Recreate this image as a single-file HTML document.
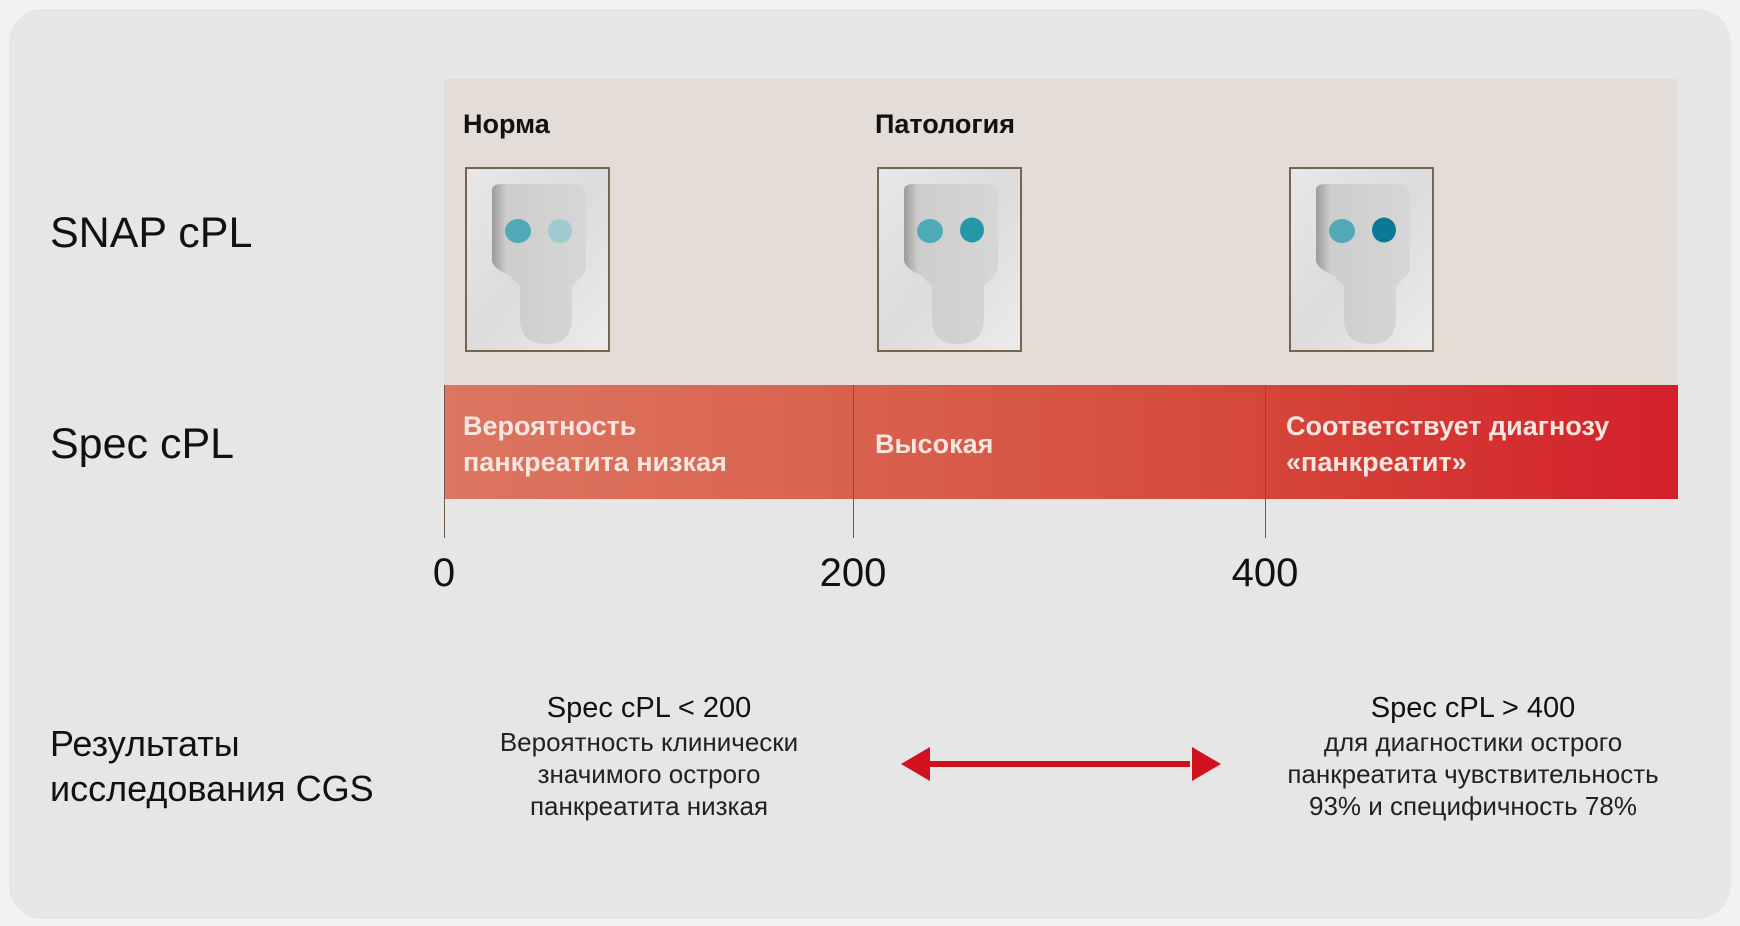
<!DOCTYPE html>
<html><head><meta charset="utf-8"><style>
body{margin:0;width:1740px;height:926px;background:#f2f2f2;font-family:"Liberation Sans",sans-serif;position:relative;overflow:hidden}
.card{position:absolute;left:9px;top:9px;width:1722px;height:910px;background:#e6e6e6;border-radius:34px}
.abs{position:absolute;white-space:nowrap}
.lbl{font-size:43px;color:#111}
.b{font-weight:bold}
.bt{color:#f6e6df;font-size:27px;font-weight:bold;line-height:36px}
.tick{font-size:40px;color:#111;transform:translateX(-50%)}
.c{text-align:center;transform:translateX(-50%);color:#222}
.c .h{font-size:29px;line-height:36px;color:#111}
.c .t{font-size:26px;line-height:32px}
</style></head><body>
<div class="card"></div>
<div class="abs" style="left:444px;top:79px;width:1234px;height:306px;background:#e4dcd7"></div>
<div class="abs" style="left:444px;top:385px;width:1234px;height:114px;background:linear-gradient(90deg,#dc7661 0%,#d96450 30%,#d5483a 65%,#d31f2a 100%)"></div>
<div class="abs" style="left:444px;top:385px;width:1px;height:153px;background:#6b5a4a"></div>
<div class="abs" style="left:853px;top:385px;width:1px;height:153px;background:#6b5a4a"></div>
<div class="abs" style="left:1265px;top:385px;width:1px;height:153px;background:#6b5a4a"></div>

<div class="abs lbl" style="left:50px;top:209px">SNAP cPL</div>
<div class="abs lbl" style="left:50px;top:420px">Spec cPL</div>
<div class="abs b" style="left:463px;top:109px;font-size:27px;color:#111">Норма</div>
<div class="abs b" style="left:875px;top:109px;font-size:27px;color:#111">Патология</div>

<svg class="abs" style="left:0;top:0" width="1740" height="926">
<defs>
<linearGradient id="bg" x1="0" y1="0" x2="1" y2="1"><stop offset="0" stop-color="#e8e8e8"/><stop offset="0.5" stop-color="#dcdcdc"/><stop offset="1" stop-color="#ececec"/></linearGradient>
<linearGradient id="sh" x1="0" y1="0" x2="1" y2="0"><stop offset="0" stop-color="#9a9a9a"/><stop offset="0.15" stop-color="#cdcdcd"/><stop offset="1" stop-color="#d6d6d6"/></linearGradient>
<g id="dev">
<rect x="0" y="0" width="143" height="183" fill="url(#bg)" stroke="#75644f" stroke-width="2"/>
<path d="M26 22 Q26 16 36 16 L110 16 Q120 16 120 26 L120 98 Q120 104 114 110 L106 118 L106 150 Q106 176 80 176 Q54 176 54 150 L54 118 L44 108 Q26 100 26 92 Z" fill="url(#sh)"/>
</g>
</defs>
<use href="#dev" x="466" y="168"/>
<use href="#dev" x="878" y="168"/>
<use href="#dev" x="1290" y="168"/>
<g>
<ellipse cx="518" cy="231" rx="13" ry="12" fill="#4fa9b6"/><ellipse cx="560" cy="231" rx="12" ry="12" fill="#9fcad1"/>
<ellipse cx="930" cy="231" rx="13" ry="12" fill="#4fa9b6"/><ellipse cx="972" cy="230" rx="12" ry="12.5" fill="#2595a8"/>
<ellipse cx="1342" cy="231" rx="13" ry="12" fill="#52a8b5"/><ellipse cx="1384" cy="230" rx="12" ry="12.5" fill="#0a7a94"/>
</g>
<rect x="920" y="761" width="270" height="6" fill="#d0121e"/>
<polygon points="901,764 930,747 930,781" fill="#d0121e"/>
<polygon points="1221,764 1192,747 1192,781" fill="#d0121e"/>
</svg>

<div class="abs bt" style="left:463px;top:408px">Вероятность<br>панкреатита низкая</div>
<div class="abs bt" style="left:875px;top:426px">Высокая</div>
<div class="abs bt" style="left:1286px;top:408px">Соответствует диагнозу<br>«панкреатит»</div>

<div class="abs tick" style="left:444px;top:551px">0</div>
<div class="abs tick" style="left:853px;top:551px">200</div>
<div class="abs tick" style="left:1265px;top:551px">400</div>

<div class="abs" style="left:50px;top:721px;font-size:36px;line-height:45px;color:#111">Результаты<br>исследования CGS</div>
<div class="abs c" style="left:649px;top:690px"><div class="h">Spec cPL &lt; 200</div><div class="t">Вероятность клинически<br>значимого острого<br>панкреатита низкая</div></div>
<div class="abs c" style="left:1473px;top:690px"><div class="h">Spec cPL &gt; 400</div><div class="t">для диагностики острого<br>панкреатита чувствительность<br>93% и специфичность 78%</div></div>
</body></html>
